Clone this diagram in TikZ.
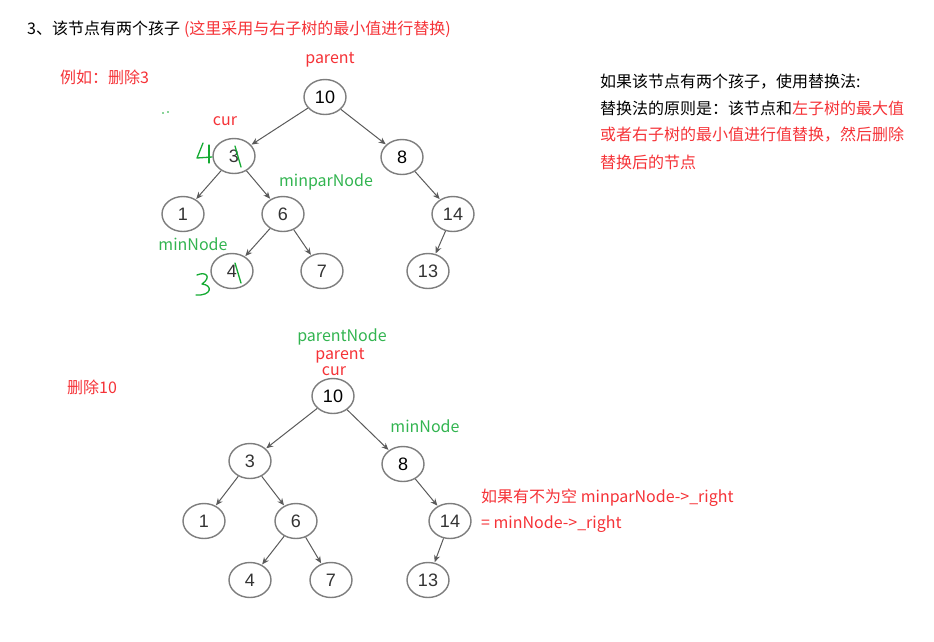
\documentclass[tikz,border=0pt]{standalone}
\usepackage{fontspec}
\setmainfont{Noto Sans CJK SC}
\newfontfamily\numfont{Liberation Sans}
\usetikzlibrary{shapes.geometric,arrows.meta}
\definecolor{myred}{RGB}{245,50,55}
\definecolor{mygreen}{RGB}{50,180,80}
\definecolor{hgreen}{RGB}{20,170,50}
\definecolor{edgegray}{RGB}{90,90,90}
\definecolor{ringgray}{RGB}{125,125,125}
\tikzset{
  tn/.style={ellipse, draw=ringgray, line width=1.4pt, minimum width=42pt, minimum height=35pt, inner sep=0pt, fill=white, font=\fontsize{18}{18}\selectfont\numfont, text=black!80},
  tedge/.style={-{Stealth[length=7pt,width=6pt]}, draw=edgegray, line width=1pt, shorten >=0.5pt},
  lab/.style={font=\fontsize{16}{18}\selectfont, inner sep=0pt},
  hand/.style={draw=hgreen, line width=1.3pt, line cap=round, line join=round}
}
\begin{document}
\begin{tikzpicture}[x=1pt,y=-1pt]
\useasboundingbox (0,0) rectangle (934,641);
% title
\node[lab, anchor=west] (title) at (27,29) {3、该节点有两个孩子\hspace{4pt}\textcolor{myred}{(这里采用与右子树的最小值进行替换)}};
\node[lab, anchor=west, text=myred] (ex1) at (60,77) {例如：删除3};
\node[lab, anchor=west, text=myred] (ex2) at (67,387) {删除10};
% right text
\node[lab, anchor=west] (r1) at (600,82) {如果该节点有两个孩子，使用替换法:};
\node[lab, anchor=west] (r2) at (600,108) {替换法的原则是：该节点和\textcolor{myred}{左子树的最大值}};
\node[lab, anchor=west, text=myred] (r3) at (600,135) {或者右子树的最小值进行值替换，然后删除};
\node[lab, anchor=west, text=myred] (r4) at (600,162) {替换后的节点};
\node[lab, anchor=west, text=myred] (b1) at (481,498) {如果有不为空 minparNode->\_right};
\node[lab, anchor=west, text=myred] (b2) at (481,524) {= minNode->\_right};

% tree 1
\node[tn, text=black] (a10) at (325,97) {10};
\node[tn] (a3) at (234,156) {3};
\node[tn, text=black] (a8) at (402,157) {8};
\node[tn] (a1) at (183,214) {1};
\node[tn] (a6) at (283,214) {6};
\node[tn] (a14) at (453,214) {14};
\node[tn] (a4) at (232,271) {4};
\node[tn] (a7) at (322,271) {7};
\node[tn] (a13) at (428,271) {13};
\draw[tedge] (a10) -- (a3);
\draw[tedge] (a10) -- (a8);
\draw[tedge] (a3) -- (a1);
\draw[tedge] (a3) -- (a6);
\draw[tedge] (a8) -- (a14);
\draw[tedge] (a6) -- (a4);
\draw[tedge] (a6) -- (a7);
\draw[tedge] (a14) -- (a13);
\node[lab, text=myred] (lp1) at (330,60) {parent};
\node[lab, text=myred] (lc1) at (225,121) {cur};
\node[lab, text=mygreen] (lmp) at (326,182) {minparNode};
\node[lab, text=mygreen] (lmn1) at (193,244) {minNode};
% handwritten marks
\draw[hand] (235,146) -- (241,167);
\draw[hand] (235,263) -- (241,283);
\draw[hand] (203,143) -- (197,158) -- (212,157);
\draw[hand] (209,145) -- (209,163);
\draw[hand] (197,275) .. controls (206,271) and (212,277) .. (202,284) .. controls (213,285) and (212,296) .. (196,295);
\fill[hgreen] (163,113) circle (0.8pt);
\fill[hgreen] (168,112) circle (0.8pt);

% tree 2
\node[tn, text=black] (b10) at (333,396) {10};
\node[tn] (b3) at (250,461) {3};
\node[tn, text=black] (b8) at (403,464) {8};
\node[tn] (b1n) at (204,521) {1};
\node[tn] (b6) at (296,521) {6};
\node[tn] (b14) at (450,521) {14};
\node[tn] (b4) at (250,580) {4};
\node[tn] (b7) at (331,580) {7};
\node[tn] (b13) at (428,580) {13};
\draw[tedge] (b10) -- (b3);
\draw[tedge] (b10) -- (b8);
\draw[tedge] (b3) -- (b1n);
\draw[tedge] (b3) -- (b6);
\draw[tedge] (b8) -- (b14);
\draw[tedge] (b6) -- (b4);
\draw[tedge] (b6) -- (b7);
\draw[tedge] (b14) -- (b13);
\node[lab, text=mygreen] (lpn) at (342,337) {parentNode};
\node[lab, text=myred] (lp2) at (340,356) {parent};
\node[lab, text=myred] (lc2) at (334,371) {cur};
\node[lab, text=mygreen] (lmn2) at (425,426) {minNode};
\end{tikzpicture}
\end{document}
